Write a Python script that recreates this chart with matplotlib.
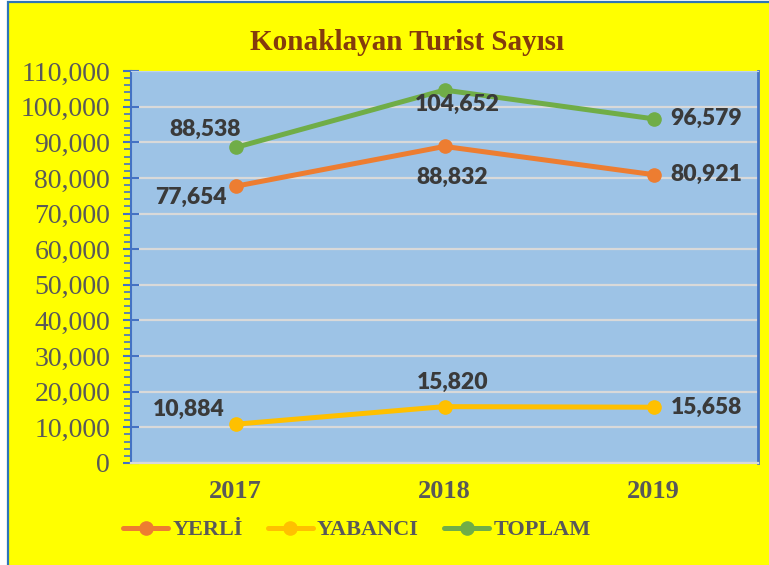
import matplotlib.pyplot as plt
from matplotlib.patches import Rectangle
from matplotlib.ticker import FuncFormatter, MultipleLocator

years = ['2017', '2018', '2019']
yerli = [77654, 88832, 80921]
yabanci = [10884, 15820, 15658]
toplam = [88538, 104652, 96579]

# label offsets in pixels (dx, dy, ha) per point
yerli_off = [(-45, -11, 'center'), (8, -31, 'center'), (17, 0, 'left')]
yabanci_off = [(-47, 15, 'center'), (8, 24, 'center'), (17, 0, 'left')]
toplam_off = [(-30, 18, 'center'), (13, -14, 'center'), (17, 0, 'left')]

fig = plt.figure(figsize=(7.69, 5.65), dpi=100)
fig.patch.set_facecolor('white')
fig.patches.append(Rectangle((8 / 769, -0.05), 1.2, 1.05 - 2.5 / 565,
                             transform=fig.transFigure, facecolor='#FFFF00',
                             edgecolor='#2E75B6', lw=1.6, zorder=-10))

ax = fig.add_axes([131 / 769, 102 / 565, 627 / 769, 392 / 565])
ax.set_facecolor('#9DC3E6')

x = range(len(years))
series = [('YERLİ', yerli, '#ED7D31', yerli_off),
          ('YABANCI', yabanci, '#FFC000', yabanci_off),
          ('TOPLAM', toplam, '#70AD47', toplam_off)]
for name, vals, col, offs in series:
    ax.plot(x, vals, color=col, lw=3.6, marker='o', ms=9.5, label=name,
            solid_capstyle='round', zorder=3)
    for xi, v, (dx, dy, ha) in zip(x, vals, offs):
        ax.annotate(f'{v:,}', (xi, v), xytext=(dx, dy), textcoords='offset pixels',
                    ha=ha, va='center', fontsize=16.5, fontweight='heavy',
                    family='Lato', color='#3A3A3A', zorder=4)

ax.set_xlim(-0.5, 2.5)
ax.set_ylim(0, 110000)
ax.yaxis.set_major_locator(MultipleLocator(10000))
ax.yaxis.set_minor_locator(MultipleLocator(2000))
ax.yaxis.set_major_formatter(FuncFormatter(lambda v, p: f'{v:,.0f}'))
ax.grid(axis='y', color='#D9D9D9', lw=1.6, zorder=1)
ax.set_axisbelow(True)

ax.tick_params(axis='y', which='major', direction='inout', length=12, width=1.5,
               color='#4472C4', labelsize=20, labelcolor='#595959', pad=9)
ax.tick_params(axis='y', which='minor', direction='out', length=5, width=1.2,
               color='#4472C4')
for lab in ax.get_yticklabels():
    lab.set_family('Liberation Serif')

ax.set_xticks(list(x))
ax.set_xticklabels(years, family='Liberation Serif', fontweight='bold',
                   fontsize=19, color='#595959')
ax.tick_params(axis='x', length=0, pad=12)

ax.spines['left'].set_color('#4472C4')
ax.spines['left'].set_linewidth(1.5)
ax.spines['right'].set_color('#4472C4')
ax.spines['right'].set_linewidth(2)
ax.spines['top'].set_color('#BFD3EA')
ax.spines['bottom'].set_color('#D9D9D9')
ax.spines['bottom'].set_linewidth(1.6)

fig.text(407 / 769, 1 - 42 / 565, 'Konaklayan Turist Sayısı', ha='center', va='center',
         family='Liberation Serif', fontweight='bold', fontsize=21, color='#843C0C')

leg = fig.legend(loc='center', bbox_to_anchor=(357 / 769, 1 - 530 / 565), ncol=3,
                 frameon=False, handlelength=2.0, handletextpad=0.2, columnspacing=1.15,
                 prop={'family': 'Liberation Serif', 'weight': 'bold', 'size': 16})
for t in leg.get_texts():
    t.set_color('#595959')

fig.savefig('out.png', dpi=100)
